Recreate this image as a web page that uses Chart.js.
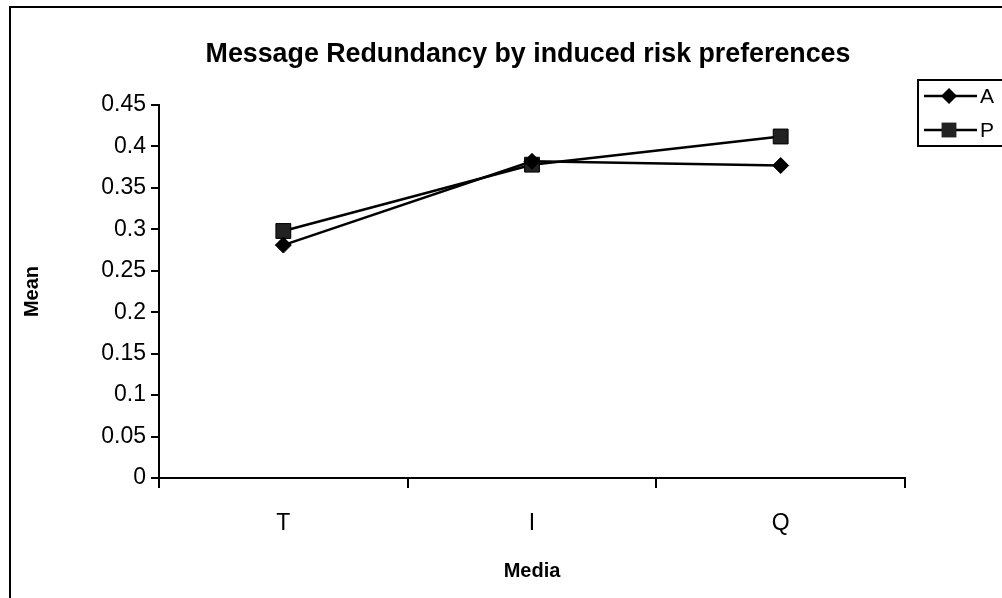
<!DOCTYPE html>
<html>
<head>
<meta charset="utf-8">
<title>Message Redundancy by induced risk preferences</title>
<script src="https://cdn.jsdelivr.net/npm/chart.js@4.4.1/dist/chart.umd.min.js"></script>
<style>
  html, body { margin: 0; padding: 0; background: #fff; }
  #wrap { position: relative; width: 1002px; height: 598px; overflow: hidden; }
  #chart { position: absolute; left: 0; top: 0; }
</style>
</head>
<body>
<div id="wrap"><canvas id="chart" width="1002" height="598"></canvas></div>
<script>
const chartTitle = 'Message Redundancy by induced risk preferences';
const media = ['T', 'I', 'Q'];
const seriesA = [0.281, 0.382, 0.377];
const seriesP = [0.298, 0.378, 0.412];
const yTicks = [0, 0.05, 0.1, 0.15, 0.2, 0.25, 0.3, 0.35, 0.4, 0.45];

const FONT = '"Liberation Sans", Arial, sans-serif';

// outer frame: only top and left edges show
const framePlugin = {
    id: 'frame',
    beforeDraw(chart) {
        const c = chart.ctx;
        c.save();
        c.strokeStyle = '#000';
        c.lineWidth = 2;
        c.beginPath();
        c.moveTo(10, chart.height);
        c.lineTo(10, 7);
        c.lineTo(chart.width, 7);
        c.stroke();
        c.restore();
    }
};

// title centred over the plot area rather than the whole canvas
const plotTitle = {
    id: 'plotTitle',
    afterDraw(chart) {
        const c = chart.ctx;
        const a = chart.chartArea;
        c.save();
        c.fillStyle = '#000';
        c.font = 'bold 26.8px ' + FONT;
        c.textAlign = 'center';
        c.textBaseline = 'middle';
        c.fillText(chartTitle, (a.left + a.right) / 2 - 4, 55);
        c.restore();
    }
};

// boxed legend to the right of the plot
const boxLegend = {
    id: 'boxLegend',
    afterDraw(chart) {
        const c = chart.ctx;
        const x0 = chart.chartArea.right + 13;
        const top = 80;
        const rowH = 34;
        c.save();
        c.strokeStyle = '#000';
        c.lineWidth = 2;
        c.strokeRect(x0, top, 120, 66);
        chart.data.datasets.forEach((ds, i) => {
            const y = top + 16 + i * rowH;
            const mx = x0 + 31;
            c.strokeStyle = ds.borderColor;
            c.lineWidth = 2.5;
            c.beginPath();
            c.moveTo(x0 + 6, y);
            c.lineTo(x0 + 59, y);
            c.stroke();
            c.fillStyle = ds.pointBackgroundColor;
            c.beginPath();
            if (ds.pointStyle === 'rectRot') {
                const r = ds.pointRadius;
                c.moveTo(mx - r, y);
                c.lineTo(mx, y - r);
                c.lineTo(mx + r, y);
                c.lineTo(mx, y + r);
                c.closePath();
            } else {
                const s = ds.pointRadius * Math.SQRT1_2;
                c.rect(mx - s, y - s, 2 * s, 2 * s);
            }
            c.fill();
            c.fillStyle = '#000';
            c.font = '21px ' + FONT;
            c.textBaseline = 'middle';
            c.fillText(ds.label, x0 + 62, y + 1);
        });
        c.restore();
    }
};

const ctx = document.getElementById('chart').getContext('2d');

const myChart = new Chart(ctx, {
    type: 'line',
    data: {
        labels: media,
        datasets: [{
            label: 'A',
            data: seriesA,
            borderColor: '#000',
            borderWidth: 2.5,
            pointStyle: 'rectRot',
            pointRadius: 8,
            pointBackgroundColor: '#000',
            pointBorderColor: '#000',
            pointBorderWidth: 1,
            tension: 0
        }, {
            label: 'P',
            data: seriesP,
            borderColor: '#000',
            borderWidth: 2.5,
            pointStyle: 'rect',
            pointRadius: 10.5,
            pointBackgroundColor: '#222',
            pointBorderColor: '#000',
            pointBorderWidth: 1,
            tension: 0
        }]
    },
    options: {
        responsive: false,
        animation: false,
        devicePixelRatio: 1,
        layout: { padding: { left: 0, right: 97, top: 105, bottom: 0 } },
        plugins: {
            legend: { display: false },
            tooltip: { enabled: false },
            title: { display: false }
        },
        scales: {
            x: {
                offset: true,
                grid: {
                    display: true,
                    offset: true,
                    drawOnChartArea: false,
                    tickLength: 10,
                    color: '#000',
                    lineWidth: 2
                },
                border: { display: true, color: '#000', width: 2 },
                ticks: {
                    color: '#000',
                    padding: 22,
                    font: { family: FONT, size: 23 }
                },
                title: {
                    display: true,
                    text: 'Media',
                    color: '#000',
                    font: { family: FONT, size: 20, weight: 'bold' },
                    padding: { top: 0, bottom: 15 }
                },
                afterFit(scale) { scale.height = 120; }
            },
            y: {
                min: 0,
                max: 0.45,
                grid: {
                    display: true,
                    drawOnChartArea: false,
                    tickLength: 8,
                    color: '#000',
                    lineWidth: 2
                },
                border: { display: true, color: '#000', width: 2 },
                ticks: {
                    color: '#000',
                    padding: 5,
                    font: { family: FONT, size: 23 },
                    callback: v => String(Number(v.toFixed(2)))
                },
                afterBuildTicks(scale) {
                    scale.ticks = yTicks.map(v => ({ value: v }));
                },
                title: {
                    display: true,
                    text: 'Mean',
                    color: '#000',
                    font: { family: FONT, size: 20, weight: 'bold' },
                    padding: { top: 20, bottom: 0 }
                },
                afterFit(scale) { scale.width = 159; }
            }
        }
    },
    plugins: [framePlugin, plotTitle, boxLegend]
});
</script>
</body>
</html>
